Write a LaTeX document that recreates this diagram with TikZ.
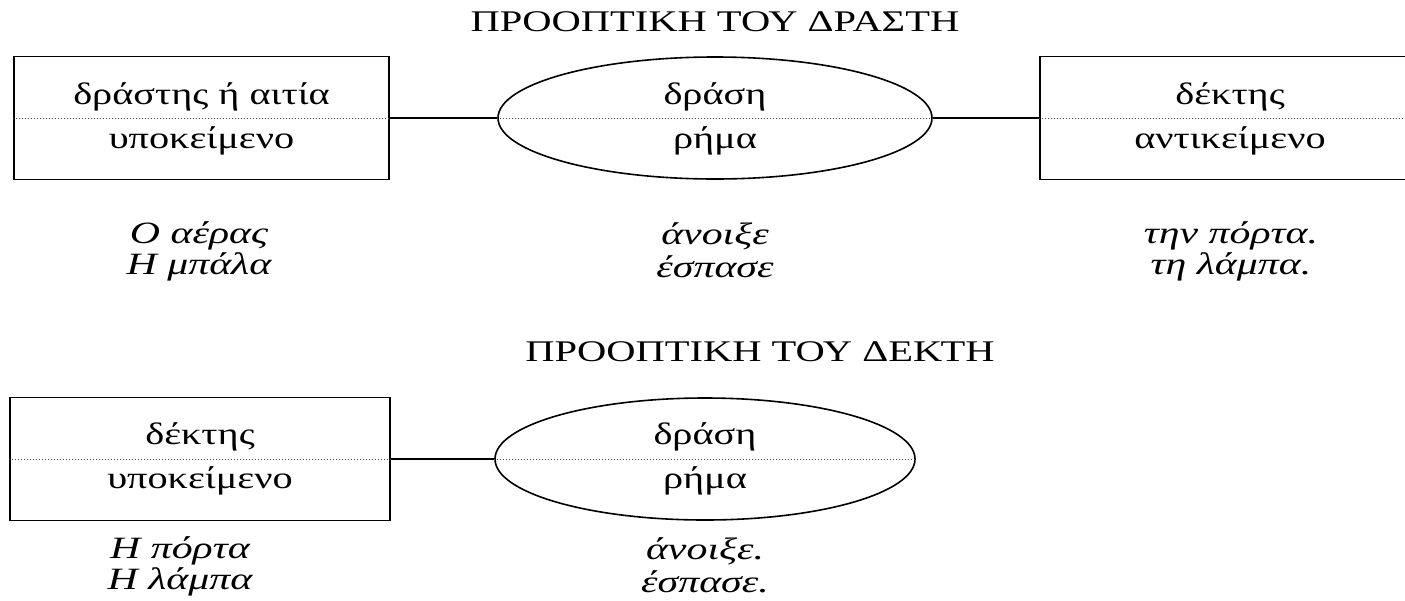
\documentclass[tikz,border=0pt]{standalone}
\usepackage{fontspec}
\setmainfont{Liberation Serif}
\newfontfamily\lblfont[FakeStretch=1.3]{Liberation Serif}
\newfontfamily\exfont[FakeStretch=1.35]{Liberation Serif}
\newfontfamily\ttlfont[FakeStretch=1.35]{Liberation Serif}
\usetikzlibrary{shapes.geometric}
\begin{document}
\begin{tikzpicture}[x=1pt,y=-1pt,
  frame/.style={draw, line width=1.6pt, rectangle, inner sep=0pt, minimum width=#1, minimum height=123pt},
  oval/.style={draw, line width=1.6pt, ellipse, inner sep=0pt, minimum width=#1, minimum height=122pt},
  dotline/.style={line width=0.8pt, dash pattern=on 0.8pt off 2.2pt, black!70},
  conn/.style={line width=1.5pt},
  lbl/.style={font=\lblfont\fontsize{31}{34}\selectfont, inner sep=0pt},
  ex/.style={font=\exfont\itshape\fontsize{31}{34}\selectfont, inner sep=0pt},
  ttl/.style={font=\ttlfont\fontsize{30}{34}\selectfont, inner sep=0pt}]
\clip (0,0) rectangle (1405,600);
\fill[white] (0,0) rectangle (1405,600);
% ---- top: perspective of the agent
\node[ttl] (t1) at (715,22) {ΠΡΟΟΠΤΙΚΗ ΤΟΥ ΔΡΑΣΤΗ};
\node[frame=375pt] (b1) at (201.5,118) {};
\node[oval=434pt] (e1) at (715,118) {};
\node[frame=380pt] (b2) at (1230,118) {};
\draw[dotline] (b1.west) -- (b1.east);
\draw[dotline] (e1.west) -- (e1.east);
\draw[dotline] (b2.west) -- (b2.east);
\draw[conn] (b1.east) -- (e1.west);
\draw[conn] (e1.east) -- (b2.west);
\node[lbl] (b1u) at (201.5,97) {δράστης ή αιτία};
\node[lbl] (b1l) at (201.5,141) {υποκείμενο};
\node[lbl] (e1u) at (715,97) {δράση};
\node[lbl] (e1l) at (715,141) {ρήμα};
\node[lbl] (b2u) at (1230,97) {δέκτης};
\node[lbl] (b2l) at (1230,141) {αντικείμενο};
\node[ex] (x11) at (199,236) {Ο αέρας};
\node[ex] (x12) at (199,267) {Η μπάλα};
\node[ex] (x21) at (715,236) {άνοιξε};
\node[ex] (x22) at (715,267) {έσπασε};
\node[ex] (x31) at (1231,236) {την πόρτα.};
\node[ex] (x32) at (1231,267) {τη λάμπα.};
% ---- bottom: perspective of the patient
\node[ttl] (t2) at (760,352) {ΠΡΟΟΠΤΙΚΗ ΤΟΥ ΔΕΚΤΗ};
\node[frame=380pt] (b3) at (200,459) {};
\node[oval=420pt] (e2) at (705,459) {};
\draw[dotline] (b3.west) -- (b3.east);
\draw[dotline] (e2.west) -- (e2.east);
\draw[conn] (b3.east) -- (e2.west);
\node[lbl] (b3u) at (200,437) {δέκτης};
\node[lbl] (b3l) at (200,481) {υποκείμενο};
\node[lbl] (e2u) at (705,437) {δράση};
\node[lbl] (e2l) at (705,481) {ρήμα};
\node[ex] (x41) at (180,551) {Η πόρτα};
\node[ex] (x42) at (180,582) {Η λάμπα};
\node[ex] (x51) at (705,551) {άνοιξε.};
\node[ex] (x52) at (705,582) {έσπασε.};
\end{tikzpicture}
\end{document}
